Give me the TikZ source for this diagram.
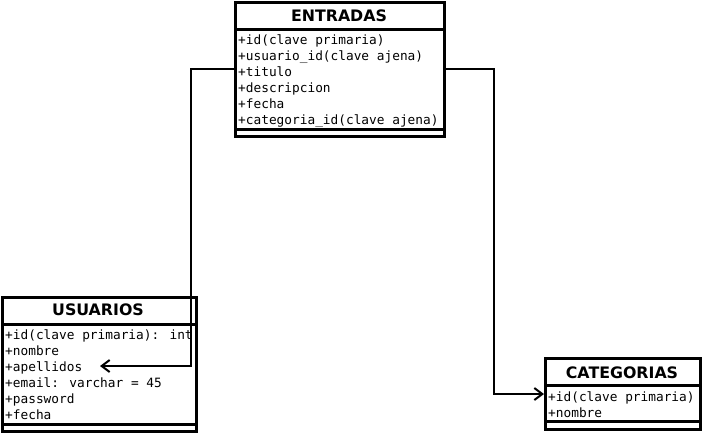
\documentclass[tikz,border=0pt]{standalone}
\usepackage{fontspec}
\usepackage{tikz}
\usetikzlibrary{arrows.meta}
\newfontfamily\titlefont{DejaVu Sans}
\newfontfamily\attrfont{DejaVu Sans Mono}

\tikzset{
	classbox/.style={draw, line width=3pt, anchor=north west, inner sep=0pt, outer sep=0pt},
	compline/.style={line width=3pt},
	classtitle/.style={anchor=base, inner sep=0pt, font=\fontsize{15.8}{18}\selectfont\titlefont\bfseries},
	attr/.style={anchor=base west, inner sep=0pt, font=\fontsize{12.8}{16}\selectfont\attrfont},
	link/.style={line width=2pt, -{Straight Barb[length=8pt,width=12pt]}}
}

\begin{document}
\begin{tikzpicture}[x=1pt,y=-1pt]
		\useasboundingbox (0,0) rectangle (702,434);

		% ENTRADAS
		\node[classbox, minimum width=209pt, minimum height=134pt] (entradas) at (235,2) {};
		\draw[compline] (235,29) -- (444,29);
		\draw[compline] (235,129) -- (444,129);
		\node[classtitle] (entradas-t) at (339,21) {ENTRADAS};
		\foreach \t [count=\i] in {+id(clave primaria), +usuario\_id(clave ajena), +titulo, +descripcion, +fecha, +categoria\_id(clave ajena)}
			\node[attr] (entradas-\i) at (238,28+16*\i) {\t};

		% USUARIOS
		\node[classbox, minimum width=194pt, minimum height=134pt] (usuarios) at (2,297) {};
		\draw[compline] (2,324) -- (196,324);
		\draw[compline] (2,424) -- (196,424);
		\node[classtitle] (usuarios-t) at (98,315) {USUARIOS};
		\foreach \t [count=\i] in {+id(clave primaria): int, +nombre, +apellidos, +email: varchar = 45, +password, +fecha}
			\node[attr] (usuarios-\i) at (5,323+16*\i) {\t};

		% CATEGORIAS
		\node[classbox, minimum width=155pt, minimum height=71pt] (categorias) at (545,358) {};
		\draw[compline] (545,385) -- (700,385);
		\draw[compline] (545,421) -- (700,421);
		\node[classtitle] (categorias-t) at (622,378) {CATEGORIAS};
		\foreach \t [count=\i] in {+id(clave primaria), +nombre}
			\node[attr] (categorias-\i) at (548,385+16*\i) {\t};

		% relaciones
		\coordinate (usr-end) at (100,366);
		\coordinate (cat-end) at (544,394);
		\draw[link] (entradas.west |- 0,69) -| (191,366) -- (usr-end);
		\draw[link] (entradas.east |- 0,69) -| (494,394) -- (cat-end);

	\end{tikzpicture}
\end{document}
